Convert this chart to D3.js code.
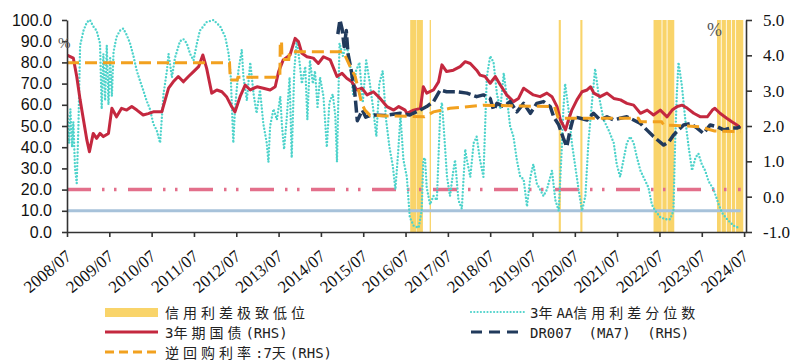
<!DOCTYPE html>
<html><head><meta charset="utf-8">
<script src="https://cdn.jsdelivr.net/npm/d3@7"></script>
<style>html,body{margin:0;padding:0;background:#fff;} svg{display:block;}</style>
</head><body>
<svg id="chart" width="792" height="363"></svg>
<script>
// ---------------- data ----------------
const tickYears = [2008.5,2009.5,2010.5,2011.5,2012.5,2013.5,2014.5,2015.5,2016.5,2017.5,2018.5,2019.5,2020.5,2021.5,2022.5,2023.5,2024.5];
const tickLabels = ["2008/07","2009/07","2010/07","2011/07","2012/07","2013/07","2014/07","2015/07","2016/07","2017/07","2018/07","2019/07","2020/07","2021/07","2022/07","2023/07","2024/07"];
const leftTicks = [0,10,20,30,40,50,60,70,80,90,100];
const rightTicks = [-1,0,1,2,3,4,5];

// credit spread extreme-low periods (decimal years)
const bandStart = [2016.61,2016.76,2017.07,2020.12,2020.63,2022.36,2022.57,2022.69,2023.86,2023.97,2024.09,2024.21,2024.31];
const bandEnd   = [2016.75,2016.91,2017.10,2020.17,2020.68,2022.55,2022.67,2022.85,2023.95,2024.07,2024.19,2024.29,2024.48];

// reference levels on left axis
const refLevels = [20, 10];
const refRange = [2008.5, 2024.42];

// 3Y AA credit spread percentile (LHS)
const spreadPct = [[2008.51,55],[2008.55,42],[2008.58,58],[2008.62,40],[2008.65,52],[2008.69,30],[2008.73,23],[2008.77,50],[2008.81,88],[2008.89,95],[2008.97,99],[2009.04,100],[2009.12,97],[2009.20,95],[2009.28,89],[2009.32,58],[2009.36,84],[2009.40,62],[2009.44,88],[2009.48,60],[2009.52,82],[2009.56,64],[2009.60,85],[2009.67,92],[2009.75,95],[2009.83,96],[2009.91,93],[2009.99,89],[2010.07,83],[2010.15,76],[2010.23,71],[2010.30,67],[2010.38,62],[2010.46,58],[2010.54,51],[2010.62,48],[2010.70,42],[2010.78,65],[2010.86,76],[2010.90,84],[2010.98,73],[2011.05,82],[2011.17,90],[2011.25,91],[2011.33,89],[2011.41,84],[2011.49,81],[2011.57,89],[2011.64,95],[2011.80,99],[2011.96,100],[2012.12,97],[2012.24,92],[2012.32,84],[2012.37,73],[2012.43,42],[2012.47,58],[2012.55,76],[2012.63,86],[2012.67,73],[2012.75,62],[2012.83,80],[2012.91,65],[2012.98,56],[2013.06,67],[2013.14,51],[2013.22,42],[2013.26,33],[2013.30,50],[2013.38,58],[2013.46,53],[2013.54,64],[2013.58,50],[2013.63,39],[2013.69,53],[2013.76,73],[2013.81,35],[2013.87,76],[2013.93,91],[2013.99,81],[2014.05,70],[2014.13,78],[2014.18,53],[2014.24,81],[2014.31,70],[2014.36,76],[2014.42,59],[2014.48,73],[2014.56,64],[2014.64,40],[2014.70,61],[2014.78,65],[2014.84,55],[2014.88,33],[2014.94,89],[2015.02,83],[2015.10,89],[2015.18,81],[2015.26,65],[2015.33,76],[2015.41,80],[2015.49,61],[2015.57,81],[2015.65,71],[2015.73,59],[2015.81,45],[2015.88,70],[2015.96,76],[2016.04,53],[2016.12,40],[2016.20,31],[2016.26,20],[2016.33,39],[2016.38,55],[2016.45,34],[2016.53,26],[2016.60,7],[2016.69,3],[2016.81,2],[2016.88,10],[2016.92,34],[2016.96,35],[2017.00,21],[2017.08,13],[2017.16,17],[2017.24,15],[2017.32,57],[2017.36,61],[2017.40,50],[2017.48,26],[2017.55,17],[2017.63,29],[2017.67,34],[2017.75,15],[2017.83,11],[2017.91,39],[2017.95,34],[2018.03,26],[2018.11,42],[2018.18,45],[2018.26,34],[2018.34,26],[2018.42,73],[2018.50,83],[2018.58,80],[2018.66,65],[2018.74,58],[2018.82,75],[2018.89,64],[2018.97,50],[2019.05,45],[2019.13,34],[2019.21,26],[2019.29,25],[2019.37,12],[2019.45,26],[2019.52,32],[2019.60,23],[2019.68,20],[2019.76,17],[2019.84,20],[2019.96,29],[2020.04,15],[2020.12,10],[2020.19,39],[2020.23,58],[2020.27,70],[2020.35,58],[2020.43,42],[2020.51,31],[2020.59,20],[2020.67,10],[2020.75,17],[2020.82,42],[2020.90,60],[2020.98,77],[2021.06,65],[2021.18,53],[2021.30,48],[2021.42,42],[2021.49,32],[2021.57,26],[2021.65,34],[2021.73,42],[2021.81,45],[2021.89,42],[2021.97,35],[2022.05,29],[2022.12,26],[2022.24,21],[2022.32,13],[2022.40,10],[2022.52,7],[2022.64,6],[2022.75,6],[2022.83,10],[2022.87,42],[2022.91,65],[2022.95,80],[2023.03,69],[2023.11,53],[2023.19,40],[2023.27,29],[2023.35,35],[2023.42,37],[2023.50,32],[2023.58,29],[2023.66,24],[2023.78,20],[2023.90,13],[2023.98,9],[2024.10,6],[2024.25,3],[2024.37,2]];

// 3Y government bond yield (RHS)
const cgb3y = [[2008.50,4.01],[2008.65,3.92],[2008.73,3.40],[2008.81,2.74],[2008.89,2.17],[2008.97,1.60],[2009.03,1.27],[2009.12,1.79],[2009.20,1.65],[2009.28,1.79],[2009.36,1.70],[2009.48,1.79],[2009.56,2.50],[2009.67,2.26],[2009.79,2.50],[2009.91,2.45],[2010.03,2.55],[2010.15,2.45],[2010.30,2.31],[2010.42,2.35],[2010.54,2.40],[2010.74,2.40],[2010.82,2.74],[2010.90,3.07],[2011.01,3.25],[2011.13,3.40],[2011.25,3.25],[2011.37,3.40],[2011.49,3.54],[2011.61,3.68],[2011.71,4.01],[2011.80,3.63],[2011.92,2.93],[2012.04,3.02],[2012.16,2.97],[2012.27,2.83],[2012.39,2.55],[2012.47,2.40],[2012.59,2.83],[2012.71,3.16],[2012.83,3.02],[2012.99,3.11],[2013.14,3.07],[2013.30,3.02],[2013.42,3.11],[2013.50,3.54],[2013.61,3.87],[2013.77,4.01],[2013.89,4.48],[2013.97,4.39],[2014.05,4.06],[2014.17,3.96],[2014.32,3.92],[2014.44,3.77],[2014.56,3.96],[2014.72,3.87],[2014.88,3.40],[2015.00,3.49],[2015.11,3.35],[2015.23,3.25],[2015.35,3.02],[2015.47,3.07],[2015.59,2.88],[2015.74,2.97],[2015.90,2.78],[2016.06,2.55],[2016.22,2.45],[2016.34,2.55],[2016.49,2.45],[2016.53,2.36],[2016.69,2.45],[2016.85,2.50],[2016.92,3.11],[2017.00,2.93],[2017.16,3.02],[2017.28,3.25],[2017.36,3.73],[2017.47,3.54],[2017.63,3.58],[2017.79,3.68],[2017.91,3.82],[2018.03,3.77],[2018.18,3.58],[2018.26,3.44],[2018.38,3.40],[2018.50,3.21],[2018.62,3.40],[2018.74,3.16],[2018.89,2.88],[2019.05,2.69],[2019.17,2.78],[2019.29,3.07],[2019.41,2.97],[2019.52,2.88],[2019.68,2.83],[2019.84,2.93],[2019.96,2.83],[2020.08,2.55],[2020.16,2.17],[2020.28,1.89],[2020.35,2.17],[2020.43,2.45],[2020.55,2.74],[2020.67,2.97],[2020.79,3.02],[2020.87,3.11],[2020.95,2.93],[2021.10,2.83],[2021.26,2.93],[2021.42,2.78],[2021.58,2.74],[2021.73,2.64],[2021.89,2.59],[2022.05,2.36],[2022.21,2.45],[2022.36,2.31],[2022.52,2.45],[2022.68,2.26],[2022.80,2.45],[2022.92,2.55],[2023.04,2.59],[2023.16,2.50],[2023.31,2.36],[2023.47,2.26],[2023.63,2.26],[2023.75,2.45],[2023.81,2.50],[2023.93,2.36],[2024.09,2.22],[2024.21,2.12],[2024.33,2.03],[2024.41,1.94]];

// DR007 (MA7) (RHS)
const dr007 = [[2014.90,4.60],[2014.95,5.00],[2015.00,4.75],[2015.05,4.25],[2015.10,4.70],[2015.14,4.05],[2015.22,3.55],[2015.30,2.95],[2015.36,2.15],[2015.42,2.30],[2015.48,2.45],[2015.56,2.25],[2015.70,2.31],[2016.00,2.30],[2016.37,2.36],[2016.60,2.31],[2016.84,2.45],[2017.00,2.55],[2017.16,2.69],[2017.32,3.02],[2017.47,2.97],[2017.71,2.97],[2017.95,2.93],[2018.18,2.83],[2018.34,2.88],[2018.50,2.78],[2018.58,2.45],[2018.66,2.64],[2018.82,2.55],[2018.97,2.69],[2019.13,2.40],[2019.29,2.64],[2019.45,2.36],[2019.60,2.64],[2019.76,2.69],[2019.92,2.55],[2020.00,2.26],[2020.12,2.03],[2020.23,1.65],[2020.31,1.41],[2020.39,1.89],[2020.47,2.26],[2020.63,2.22],[2020.79,2.17],[2020.94,2.36],[2021.10,2.17],[2021.26,2.26],[2021.42,2.17],[2021.57,2.22],[2021.73,2.26],[2021.89,2.17],[2022.05,2.07],[2022.20,1.89],[2022.36,1.70],[2022.60,1.46],[2022.72,1.55],[2022.83,1.74],[2022.95,1.89],[2023.07,2.03],[2023.23,2.07],[2023.39,1.94],[2023.54,1.79],[2023.70,2.03],[2023.86,1.98],[2024.02,1.89],[2024.17,1.94],[2024.33,1.94],[2024.41,1.98]];

// 7-day reverse repo rate (RHS)
const repo7d = [[2008.50,3.79],[2012.34,3.79],[2012.36,3.30],[2012.52,3.30],[2012.54,3.38],[2013.53,3.38],[2013.54,4.40],[2013.57,4.40],[2013.58,3.88],[2013.74,3.88],[2013.76,4.10],[2015.03,4.10],[2015.19,3.68],[2015.31,3.40],[2015.39,3.02],[2015.46,2.65],[2015.54,2.45],[2015.66,2.30],[2016.95,2.26],[2017.16,2.40],[2017.55,2.50],[2018.34,2.59],[2019.00,2.57],[2020.02,2.55],[2020.10,2.25],[2020.15,2.22],[2022.00,2.22],[2022.05,2.12],[2022.55,2.12],[2022.60,2.03],[2023.45,1.98],[2023.80,1.86],[2024.42,1.84]];

const legendLabels = ["信用利差极致低位","3年AA信用利差分位数","3年期国债(RHS)","DR007 (MA7) (RHS)","逆回购利率:7天(RHS)"];

// ---------------- drawing ----------------
const svg = d3.select("#chart");
const x = d3.scaleLinear().domain([2008.5, 2024.545]).range([67, 746]);
const yL = d3.scaleLinear().domain([0, 100]).range([232, 20]);
const yR = d3.scaleLinear().domain([-1, 5]).range([232, 20]);

const C = {band:"#F9D46A", cyan:"#4ED3CB", red:"#C4283F", navy:"#213A5C", orange:"#F2A11F", pink:"#E36F8B", blue:"#A7C2DA", axis:"#333"};

svg.append("defs").append("clipPath").attr("id","plot").append("rect")
  .attr("x",67).attr("y",18).attr("width",680).attr("height",216);

const plot = svg.append("g").attr("clip-path","url(#plot)");

plot.append("g").selectAll("rect").data(d3.zip(bandStart, bandEnd)).join("rect")
  .attr("x", d => x(d[0])).attr("width", d => Math.max(1.3, x(d[1]) - x(d[0])))
  .attr("y", yL(100)).attr("height", yL(0) - yL(100)).attr("fill", C.band);

plot.append("line").attr("x1", x(refRange[0])).attr("x2", x(refRange[1]))
  .attr("y1", yL(refLevels[0])).attr("y2", yL(refLevels[0]))
  .attr("stroke", C.pink).attr("stroke-width", 3.5).attr("stroke-dasharray", "24,11,2.5,9.5,2.5,11.5");
plot.append("line").attr("x1", x(refRange[0])).attr("x2", x(refRange[1]))
  .attr("y1", yL(refLevels[1])).attr("y2", yL(refLevels[1]))
  .attr("stroke", C.blue).attr("stroke-width", 3);

const lineL = d3.line().x(d => x(d[0])).y(d => yL(d[1]));
const lineR = d3.line().x(d => x(d[0])).y(d => yR(d[1]));

plot.append("path").attr("d", lineL(spreadPct)).attr("fill","none").attr("stroke", C.cyan)
  .attr("stroke-width", 2.4).attr("stroke-linecap","round").attr("stroke-dasharray","0,3.4");
plot.append("path").attr("d", lineR(cgb3y)).attr("fill","none").attr("stroke", C.red)
  .attr("stroke-width", 3).attr("stroke-linejoin","round");
plot.append("path").attr("d", lineR(dr007)).attr("fill","none").attr("stroke", C.navy)
  .attr("stroke-width", 3.5).attr("stroke-dasharray","12,4").attr("stroke-linejoin","round");
plot.append("path").attr("d", lineR(repo7d)).attr("fill","none").attr("stroke", C.orange)
  .attr("stroke-width", 3).attr("stroke-dasharray","12,6");

// axes
const fmt = d => d3.format(".1f")(d).replace("\u2212","-");
const gx = svg.append("g").attr("transform","translate(0,232)")
  .call(d3.axisBottom(x).tickValues(tickYears).tickFormat((d,i) => tickLabels[i]).tickSize(5).tickSizeOuter(0));
gx.selectAll("text").attr("x",0).attr("y",0).attr("dy",0)
  .attr("transform","translate(5,26) rotate(-40)").attr("text-anchor","end")
  .style("font-family","'Liberation Serif', serif").style("font-size","17px").attr("fill","#111");

const gl = svg.append("g").attr("transform","translate(67,0)")
  .call(d3.axisLeft(yL).tickValues(leftTicks).tickFormat(fmt).tickSize(5).tickPadding(10).tickSizeOuter(0));
gl.selectAll("text").style("font-family","'Liberation Sans', Arial, sans-serif").style("font-size","16px").attr("fill","#111");

const gr = svg.append("g").attr("transform","translate(746,0)")
  .call(d3.axisRight(yR).tickValues(rightTicks).tickFormat(fmt).tickSize(6).tickPadding(11).tickSizeOuter(0));
gr.selectAll("text").style("font-family","'Liberation Serif', serif").style("font-size","17px").attr("fill","#111");

svg.selectAll(".domain, .tick line").attr("stroke", C.axis).attr("stroke-width", 1.6);

svg.append("text").attr("x",58).attr("y",48).text("%")
  .style("font-family","'Liberation Serif', serif").style("font-size","15px").attr("fill","#555");
svg.append("text").attr("x",707).attr("y",36).text("%")
  .style("font-family","'Liberation Serif', serif").style("font-size","18px").attr("fill","#555");

// legend
const lg = svg.append("g");
function label(xp, yp, str) {
  const t = lg.append("text").attr("x", xp).attr("y", yp).attr("fill","#222").style("font-size","14px");
  const runs = str.match(/([\u3000-\u9fff\uff00-\uffef]+|[^\u3000-\u9fff\uff00-\uffef]+)/g);
  runs.forEach(r => {
    const cjk = /[\u3000-\u9fff\uff00-\uffef]/.test(r);
    t.append("tspan").text(r)
      .style("font-family", cjk ? "'Noto Sans CJK SC', sans-serif" : "'DejaVu Sans Mono', monospace")
      .style("letter-spacing", cjk ? "4px" : "0px")
      .style("word-spacing", cjk ? "0px" : "8px");
  });
}
lg.append("rect").attr("x",105).attr("y",308).attr("width",53).attr("height",9).attr("fill",C.band);
label(165, 318, legendLabels[0]);
lg.append("line").attr("x1",105).attr("x2",158).attr("y1",332).attr("y2",332).attr("stroke",C.red).attr("stroke-width",3);
label(165, 338, legendLabels[2]);
lg.append("line").attr("x1",105).attr("x2",158).attr("y1",352).attr("y2",352).attr("stroke",C.orange).attr("stroke-width",3).attr("stroke-dasharray","9,5");
label(165, 358, legendLabels[4]);
lg.append("line").attr("x1",471).attr("x2",525).attr("y1",312).attr("y2",312).attr("stroke",C.cyan).attr("stroke-width",2.2).attr("stroke-linecap","round").attr("stroke-dasharray","0,3.3");
label(530, 318, legendLabels[1]);
lg.append("line").attr("x1",471).attr("x2",525).attr("y1",332).attr("y2",332).attr("stroke",C.navy).attr("stroke-width",3).attr("stroke-dasharray","11,7");
label(530, 338, legendLabels[3]);
</script>
</body></html>
